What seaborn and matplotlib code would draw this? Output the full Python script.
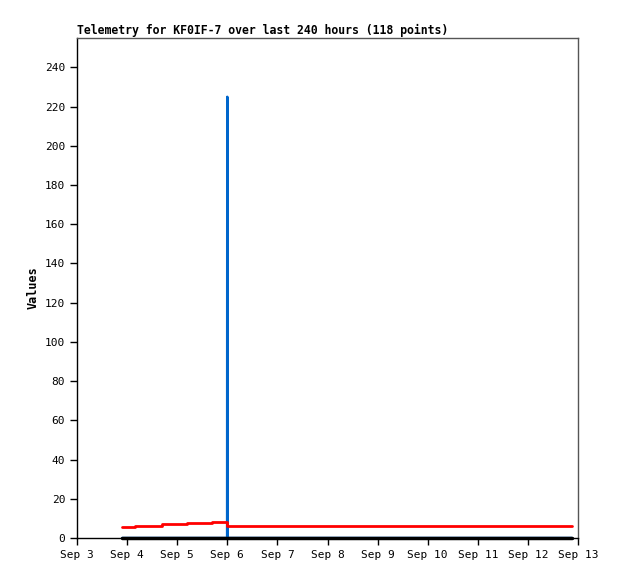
import pandas as pd
import matplotlib
matplotlib.use("Agg")
import matplotlib.pyplot as plt
import matplotlib.dates as mdates
import seaborn as sns

# series (step values, held until the next time)
red_times = ["2023-09-03 21:36", "2023-09-04 03:50", "2023-09-04 16:40",
             "2023-09-05 04:40", "2023-09-05 16:40", "2023-09-06 00:00",
             "2023-09-12 21:07"]
red_values = [5.8, 6.3, 7.0, 7.5, 8.0, 6.0, 6.0]

blue_times = ["2023-09-03 21:36", "2023-09-05 23:55", "2023-09-06 00:00",
              "2023-09-06 00:05", "2023-09-12 21:07"]
blue_values = [0, 0, 225, 0, 0]

black_times = ["2023-09-03 21:36", "2023-09-12 21:07"]
black_values = [0, 0]

title = "Telemetry for KF0IF-7 over last 240 hours (118 points)"

sns.set_style("white")
plt.rcParams["font.family"] = ["DejaVu Sans Mono"]
plt.rcParams["text.color"] = "black"
plt.rcParams["axes.labelcolor"] = "black"
plt.rcParams["xtick.color"] = "black"
plt.rcParams["ytick.color"] = "black"

red = pd.DataFrame({"t": pd.to_datetime(red_times), "v": red_values})
blue = pd.DataFrame({"t": pd.to_datetime(blue_times), "v": blue_values})
black = pd.DataFrame({"t": pd.to_datetime(black_times), "v": black_values})

fig = plt.figure(figsize=(6.18, 5.79), dpi=100)
ax = fig.add_axes([77 / 618, 41 / 579, 501 / 618, 500 / 579])

sns.lineplot(data=blue, x="t", y="v", ax=ax, color="#0066cc", linewidth=1.8)
sns.lineplot(data=red, x="t", y="v", ax=ax, color="#ff0000", linewidth=2,
             drawstyle="steps-post")
sns.lineplot(data=black, x="t", y="v", ax=ax, color="black", linewidth=2.5,
             clip_on=False)

ax.set_xlim(pd.Timestamp("2023-09-03"), pd.Timestamp("2023-09-13"))
ax.set_ylim(0, 255)
ax.set_yticks(range(0, 241, 20))
ax.xaxis.set_major_locator(mdates.DayLocator())
ax.xaxis.set_major_formatter(mdates.DateFormatter("%b %-d"))

ax.tick_params(axis="both", direction="out", length=5, width=1,
               labelsize=8, color="black", labelcolor="black",
               bottom=True, left=True)
ax.set_xlabel("")
ax.set_ylabel("Values", fontsize=8.5, fontweight="bold", color="black")
ax.set_title(title, loc="left", fontsize=8.3, fontweight="bold", pad=3,
             color="black")

for s in ["left", "bottom"]:
    ax.spines[s].set_color("black")
    ax.spines[s].set_linewidth(1)
for s in ["top", "right"]:
    ax.spines[s].set_color("#555555")
    ax.spines[s].set_linewidth(1)

fig.savefig("out.png", dpi=100)
